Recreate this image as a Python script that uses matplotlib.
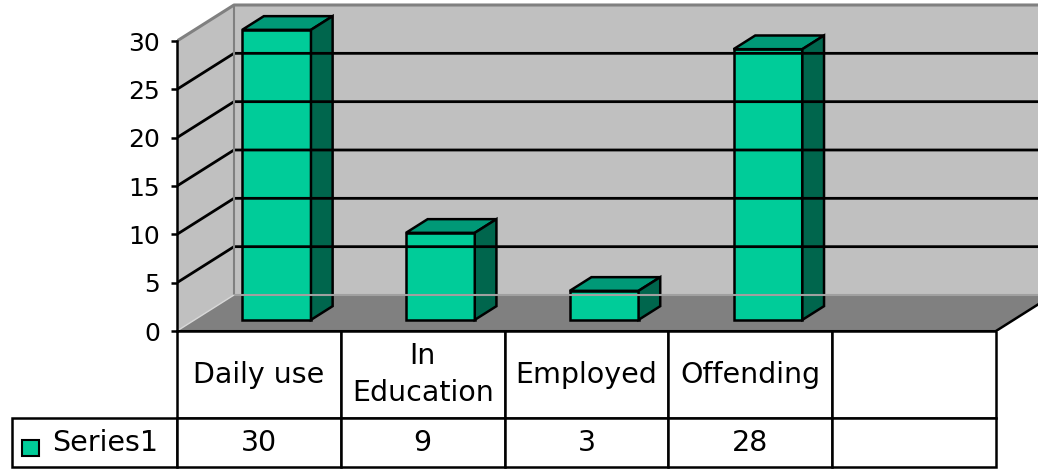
import matplotlib
matplotlib.use('Agg')
import matplotlib.pyplot as plt
from matplotlib.patches import Polygon, Rectangle

categories = ['Daily use', 'In\nEducation', 'Employed', 'Offending']
values = [30, 9, 3, 28]
series_name = 'Series1'
yticks = [0, 5, 10, 15, 20, 25, 30]

plt.rcParams['font.family'] = ['DejaVu Sans']

bar_front = '#00CC99'
bar_top = '#009977'
bar_side = '#00664D'
wall = '#C0C0C0'
floor = '#808080'

# layout in pixels
W, H = 1038, 469
x_left, x_floor_right, y_floor, y_top_tick = 177, 996, 331, 41
x_legend, y_table_bottom = 12, 467
head_h, row_h = 87, 49
depth_dx, depth_dy = 57, 36

fig = plt.figure(figsize=(W / 100, H / 100), dpi=100)
fig.patch.set_facecolor('white')
ax_w = W - x_left
ax = fig.add_axes([x_left / W, (H - y_floor) / H, ax_w / W, y_floor / H])

nslots = len(categories) + 1
slot = (x_floor_right - x_left) / nslots
ppu = (y_floor - y_top_tick) / yticks[-1]
ax.set_xlim(-0.5, -0.5 + ax_w / slot)
ax.set_ylim(0, y_floor / ppu)
DX = depth_dx / slot
DY = depth_dy / ppu


def proj(c, v, d):
    # oblique projection: depth d in [0, 1] shifts right and up
    return (c + d * DX, v + d * DY)


x0, x1, top = -0.5, nslots - 0.5, yticks[-1]

# walls and floor
ax.add_patch(Polygon([proj(x0, 0, 0), proj(x0, 0, 1), proj(x0, top, 1), proj(x0, top, 0)],
                     fc=wall, ec='none'))
ax.add_patch(Polygon([proj(x0, 0, 1), proj(x1, 0, 1), proj(x1, top, 1), proj(x0, top, 1)],
                     fc=wall, ec='none'))
ax.add_patch(Polygon([proj(x0, 0, 0), proj(x1, 0, 0), proj(x1, 0, 1), proj(x0, 0, 1)],
                     fc=floor, ec='none'))


def line(pts, **kw):
    xs, ys = zip(*pts)
    ax.plot(xs, ys, solid_capstyle='butt', **kw)


for v in yticks[1:-1]:
    line([proj(x0, v, 0), proj(x0, v, 1), proj(x1, v, 1)], color='black', lw=2)
line([proj(x0, top, 0), proj(x0, top, 1), proj(x1, top, 1)], color='#808080', lw=2.2)
line([proj(x0, 0, 1), proj(x0, top, 1)], color='#808080', lw=1.5)
line([proj(x0, 0, 1), proj(x1, 0, 1)], color='#A0A0A0', lw=1.5)
line([proj(x0, 0, 0), proj(x0, 0, 1)], color='#D8D8D8', lw=1)
line([proj(x1, 0, 0), proj(x1, 0, 1)], color='black', lw=1.8)

# 3d bars
bw, d0, d1 = 0.42, 0.31, 0.69
for i, v in enumerate(values):
    l, r = i - bw / 2, i + bw / 2
    faces = [
        ([proj(l, 0, d0), proj(r, 0, d0), proj(r, v, d0), proj(l, v, d0)], bar_front),
        ([proj(l, v, d0), proj(r, v, d0), proj(r, v, d1), proj(l, v, d1)], bar_top),
        ([proj(r, 0, d0), proj(r, 0, d1), proj(r, v, d1), proj(r, v, d0)], bar_side),
    ]
    for pts, col in faces:
        ax.add_patch(Polygon(pts, fc=col, ec='black', lw=1.8, joinstyle='miter'))

line([proj(x0, 0, 0), proj(x1, 0, 0)], color='black', lw=2.2)

# axis
for s in ['top', 'right', 'bottom']:
    ax.spines[s].set_visible(False)
ax.spines['left'].set_bounds(0, top)
ax.spines['left'].set_linewidth(1.8)
ax.set_xticks([])
ax.set_yticks(yticks)
ax.tick_params(axis='y', direction='out', length=4.5, width=1.8, labelsize=18, pad=7.5)

# data table under the floor
rl_w = x_left - x_legend
tbl_h = y_table_bottom - y_floor
tbl = ax.table(cellText=[[str(v) for v in values] + ['']],
               colLabels=categories + [''],
               colWidths=[slot / ax_w] * nslots,
               cellLoc='center', colLoc='center',
               bbox=[0, -tbl_h / y_floor, nslots * slot / ax_w, tbl_h / y_floor])
tbl.add_cell(1, -1, width=rl_w / ax_w, height=row_h / y_floor, text=series_name, loc='left')
for (r, c), cell in tbl.get_celld().items():
    cell.set_height((head_h if r == 0 else row_h) / y_floor)
    cell.set_linewidth(1.8)
    cell.set_edgecolor('black')
tbl.auto_set_font_size(False)
tbl.set_fontsize(20.5)
tbl[1, -1].PAD = 40 / rl_w
tbl[0, 1].get_text().set_linespacing(1.45)

# legend key in the row label cell
ax.add_patch(Rectangle(((x_legend + 10 - x_left) / ax_w, (y_floor - 456) / y_floor),
                       17 / ax_w, 16 / y_floor, transform=ax.transAxes, clip_on=False,
                       fc=bar_front, ec='black', lw=1.5))

fig.savefig('out.png', dpi=100)
